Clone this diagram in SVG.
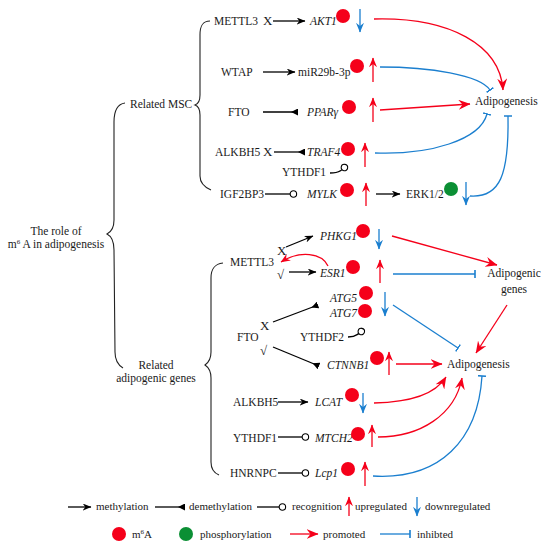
<svg xmlns="http://www.w3.org/2000/svg" width="550" height="549" viewBox="0 0 550 549">
<defs>
<style>
text{font-family:"Liberation Serif","Times New Roman",serif;font-size:11.5px;fill:#1a1a1a}
.i{font-style:italic}
.x{font-size:13px}
.lg{font-size:11px}
.m{text-anchor:middle}
.k{fill:none;stroke:#000;stroke-width:1.3}
.br{fill:none;stroke:#222;stroke-width:1.1}
.r{fill:none;stroke:#f5001a;stroke-width:1.3}
.b{fill:none;stroke:#1b7fcf;stroke-width:1.3}
.rd{fill:#f5001a}
.gd{fill:#0b8f34}
</style>
<marker id="ak" viewBox="0 0 10 8" refX="9.5" refY="4" markerWidth="9" markerHeight="7" markerUnits="userSpaceOnUse" orient="auto"><path d="M0,0 L10,4 L0,8 L3,4z" fill="#000"/></marker>
<marker id="dm" viewBox="0 0 8 8" refX="8" refY="4" markerWidth="7" markerHeight="7" markerUnits="userSpaceOnUse" orient="auto"><path d="M0,4 L8,0 L8,8z" fill="#000"/></marker>
<marker id="rc" viewBox="0 0 10 10" refX="9" refY="5" markerWidth="9" markerHeight="9" markerUnits="userSpaceOnUse" orient="auto"><circle cx="5" cy="5" r="3.6" fill="#fff" stroke="#000" stroke-width="1.2"/></marker>
<marker id="ar" viewBox="0 0 12 10" refX="11.5" refY="5" markerWidth="12" markerHeight="10" markerUnits="userSpaceOnUse" orient="auto"><path d="M0,0 L12,5 L0,10 L4,5z" fill="#f5001a"/></marker>
<marker id="ars" viewBox="0 0 12 10" refX="11.5" refY="5" markerWidth="10" markerHeight="8" markerUnits="userSpaceOnUse" orient="auto"><path d="M0,0 L12,5 L0,10 L4,5z" fill="#f5001a"/></marker>
<marker id="abs" viewBox="0 0 12 10" refX="11.5" refY="5" markerWidth="10" markerHeight="8" markerUnits="userSpaceOnUse" orient="auto"><path d="M0,0 L12,5 L0,10 L4,5z" fill="#1b7fcf"/></marker>
<marker id="tb" viewBox="0 0 2 10" refX="1" refY="5" markerWidth="1.6" markerHeight="9" markerUnits="userSpaceOnUse" orient="auto"><rect width="2" height="10" fill="#1b7fcf"/></marker>
</defs>
<rect width="550" height="549" fill="#fff"/>

<g id="braces">
<path class="br" d="M125,103 C118,104 114,110 114,122 L114,220 C114,228 111,232 107,234 C111,236 114,240 114,250 L115,352 C115,360 118,365 123,368"/>
<path class="br" d="M210,21 C203,21 200,25 200,35 L200,95 C200,101 198,104 195,105 C198,106 200,109 200,115 L200,176 C200,183 204,187 211,190"/>
<path class="br" d="M223,263 C215,264 211,268 211,278 L211,352 C211,359 208,363 205,365 C208,367 211,371 211,378 L211,462 C211,469 214,473 219,475"/>
</g>

<g id="root"><text class="m" x="56" y="235">The role of</text><text class="m" x="56" y="248">m<tspan font-size="7" dy="-4">6</tspan><tspan dy="4"> A in adipogenesis</tspan></text></g>
<g id="msc"><text x="130" y="108">Related MSC</text></g>
<g id="genes"><text class="m" x="156" y="369">Related</text><text class="m" x="156" y="382">adipogenic genes</text></g>

<g id="connectors">
<path class="k" d="M273,21 L305,21" marker-end="url(#ak)"/>
<path class="k" d="M263,72 L295,72" marker-end="url(#ak)"/>
<path class="k" d="M263,112 L298,112" marker-end="url(#dm)"/>
<path class="k" d="M274,152 L305,152" marker-end="url(#dm)"/>
<path class="k" d="M330,173 C338,173 344,170 345,164" marker-end="url(#rc)"/>
<path class="k" d="M265,194 L297,194" marker-end="url(#rc)"/>
<path class="k" d="M376,194 L400,194" marker-end="url(#ak)"/>
<path class="r" d="M374,19 C450,17 500,45 503,90" marker-end="url(#ar)"/>
<path class="b" d="M380,67 C430,67 480,75 490,90" marker-end="url(#tb)"/>
<path class="r" d="M380,110 L470,104" marker-end="url(#ar)"/>
<path class="b" d="M375,153 C430,155 480,140 487,114" marker-end="url(#tb)"/>
<path class="b" d="M470,196 C500,198 509,175 508,116" marker-end="url(#tb)"/>

<path class="k" d="M286,247 L313,236" marker-end="url(#ak)"/>
<path class="k" d="M289,272 L316,272" marker-end="url(#ak)"/>
<path class="r" d="M328,266 C322,253 300,250 281,262" marker-end="url(#ars)"/>
<path class="k" d="M273,322 L318,305" marker-end="url(#dm)"/>
<path class="k" d="M273,347 L319,366" marker-end="url(#dm)"/>
<path class="k" d="M348,337 C356,337 361,333 362,328" marker-end="url(#rc)"/>
<path class="k" d="M278,402 L308,402" marker-end="url(#ak)"/>
<path class="k" d="M278,437 L309,437" marker-end="url(#rc)"/>
<path class="k" d="M278,473 L309,473" marker-end="url(#rc)"/>
<path class="r" d="M392,236 L497,265" marker-end="url(#ar)"/>
<path class="b" d="M393,274 L475,274" marker-end="url(#tb)"/>
<path class="b" d="M393,305 L458,348" marker-end="url(#tb)"/>
<path class="r" d="M507,305 L476,353" marker-end="url(#ar)"/>
<path class="r" d="M396,364 L442,364" marker-end="url(#ar)"/>
<path class="r" d="M374,403 C410,402 435,395 446,377" marker-end="url(#ar)"/>
<path class="r" d="M378,437 C420,437 455,415 462,378" marker-end="url(#ar)"/>
<path class="b" d="M373,476 C440,480 478,440 482,376" marker-end="url(#tb)"/>
</g>

<g id="mettl3-a"><text x="214" y="25">METTL3</text><text class="x" x="263" y="25">X</text></g>
<g id="akt1"><text class="i" x="310" y="25">AKT1</text><circle class="rd" cx="343" cy="16" r="7"/><path class="b" d="M360,9 L360,32" marker-end="url(#abs)"/></g>
<g id="wtap"><text x="221" y="76">WTAP</text></g>
<g id="mir29b"><text x="298" y="76">miR29b-3p</text><circle class="rd" cx="357" cy="66" r="7"/><path class="r" d="M373,82 L373,58" marker-end="url(#ars)"/></g>
<g id="fto-a"><text x="228" y="116">FTO</text></g>
<g id="pparg"><text class="i" x="307" y="116">PPARγ</text><circle class="rd" cx="349" cy="107" r="7"/><path class="r" d="M373,122 L373,98" marker-end="url(#ars)"/></g>
<g id="alkbh5-a"><text x="215" y="156">ALKBH5</text><text class="x" x="263" y="156">X</text></g>
<g id="traf4"><text class="i" x="307" y="156">TRAF4</text><circle class="rd" cx="348" cy="149" r="7"/><path class="r" d="M365,167 L365,143" marker-end="url(#ars)"/></g>
<g id="ythdf1-a"><text x="282" y="176">YTHDF1</text></g>
<g id="igf2bp3"><text x="220" y="198">IGF2BP3</text></g>
<g id="mylk"><text class="i" x="307" y="198">MYLK</text><circle class="rd" cx="347" cy="190" r="7"/><path class="r" d="M366,206 L366,183" marker-end="url(#ars)"/></g>
<g id="erk"><text x="406" y="198">ERK1/2</text><circle class="gd" cx="451" cy="189" r="7"/><path class="b" d="M466,182 L466,205" marker-end="url(#abs)"/></g>
<g id="adipo-a"><text x="475" y="105">Adipogenesis</text></g>

<g id="phkg1"><text class="i" x="320" y="240">PHKG1</text><circle class="rd" cx="363" cy="231" r="7"/><path class="b" d="M379,229 L379,249" marker-end="url(#abs)"/></g>
<g id="mettl3-b"><text x="230" y="266">METTL3</text><text class="x" x="277" y="255">X</text><text class="x" x="277" y="279">√</text></g>
<g id="esr1"><text class="i" x="320" y="277">ESR1</text><circle class="rd" cx="353" cy="267" r="7"/><path class="r" d="M380,283 L380,260" marker-end="url(#ars)"/></g>
<g id="atg"><text class="i" x="330" y="302">ATG5</text><circle class="rd" cx="366" cy="293" r="7"/><text class="i" x="330" y="317">ATG7</text><circle class="rd" cx="365" cy="311" r="7"/><path class="b" d="M385,292 L385,316" marker-end="url(#abs)"/></g>
<g id="fto-b"><text x="237" y="341">FTO</text><text class="x" x="260" y="330">X</text><text class="x" x="260" y="355">√</text></g>
<g id="ythdf2"><text x="300" y="341">YTHDF2</text></g>
<g id="ctnnb1"><text class="i" x="327" y="369">CTNNB1</text><circle class="rd" cx="377" cy="358" r="7"/><path class="r" d="M389,375 L389,352" marker-end="url(#ars)"/></g>
<g id="alkbh5-b"><text x="233" y="406">ALKBH5</text></g>
<g id="lcat"><text class="i" x="315" y="406">LCAT</text><circle class="rd" cx="352" cy="395" r="7"/><path class="b" d="M363,393 L363,413" marker-end="url(#abs)"/></g>
<g id="ythdf1-b"><text x="233" y="442">YTHDF1</text></g>
<g id="mtch2"><text class="i" x="315" y="442">MTCH2</text><circle class="rd" cx="358" cy="434" r="7"/><path class="r" d="M372,447 L372,425" marker-end="url(#ars)"/></g>
<g id="hnrnpc"><text x="230" y="477">HNRNPC</text></g>
<g id="lcp1"><text class="i" x="315" y="477">Lcp1</text><circle class="rd" cx="348" cy="469" r="7"/><path class="r" d="M365,486 L365,462" marker-end="url(#ars)"/></g>
<g id="adipo-genes"><text class="m" x="514" y="277">Adipogenic</text><text class="m" x="514" y="293">genes</text></g>
<g id="adipo-b"><text x="447" y="368">Adipogenesis</text></g>

<g id="legend">
<path class="k" d="M68,507 L91,507" marker-end="url(#ak)"/><text class="lg" x="96" y="510">methylation</text>
<path class="k" d="M155,507 L185,507" marker-end="url(#dm)"/><text class="lg" x="189" y="510">demethylation</text>
<path class="k" d="M257,507 L286,507" marker-end="url(#rc)"/><text class="lg" x="292" y="510">recognition</text>
<path class="r" d="M349,516 L349,497" marker-end="url(#ars)"/><text class="lg" x="355" y="510">upregulated</text>
<path class="b" d="M417,497 L417,516" marker-end="url(#abs)"/><text class="lg" x="425" y="510">downregulated</text>
<circle class="rd" cx="119" cy="534" r="7"/><text class="lg" x="132" y="538">m<tspan font-size="7" dy="-4">6</tspan><tspan dy="4">A</tspan></text>
<circle class="gd" cx="186" cy="534" r="7"/><text class="lg" x="200" y="538">phosphorylation</text>
<path class="r" d="M290,534 L318,534" marker-end="url(#ar)"/><text class="lg" x="323" y="538">promoted</text>
<path class="b" d="M380,534 L410,534" marker-end="url(#tb)"/><text class="lg" x="417" y="538">inhibted</text>
</g>
</svg>
